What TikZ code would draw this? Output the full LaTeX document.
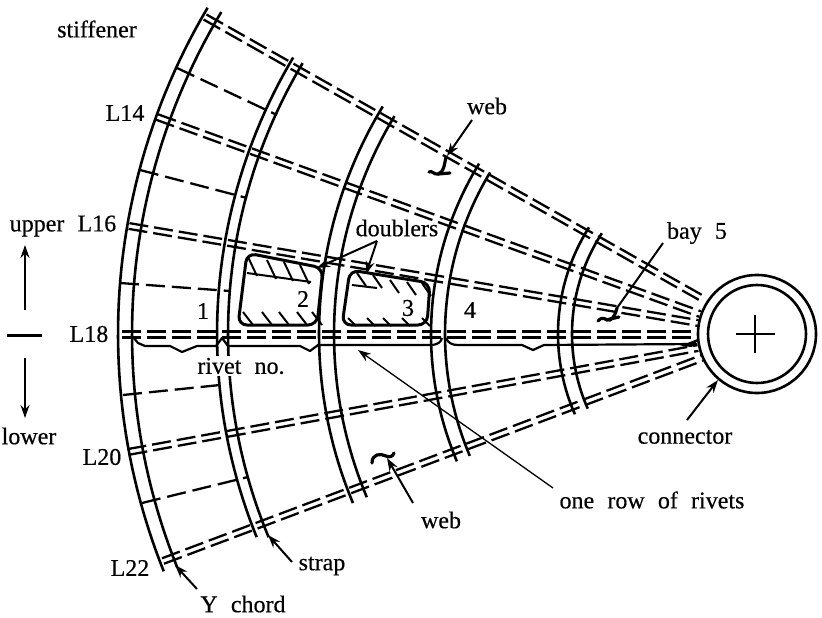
\documentclass[tikz,border=0pt]{standalone}
\usepackage{fontspec}
\setmainfont[WordSpace=2.2,FakeBold=0.4]{Liberation Serif}
\usetikzlibrary{arrows.meta,calc}
\tikzset{
 dbl/.style={line width=2.3pt,dash pattern=on 19pt off 6pt},
 chord/.style={line width=2.6pt,line join=round},
 stiff/.style={line width=2.3pt,dash pattern=on 19pt off 7pt},
 hatch/.style={line width=2pt},
 lead/.style={line width=2pt,-{Stealth[length=13pt,width=9pt]}},
 thinlead/.style={line width=1.3pt,-{Stealth[length=13pt,width=9pt]}},
 lab/.style={font=\fontsize{24}{26}\selectfont,inner sep=0pt},
 dbox/.style={line width=3pt,rounded corners=9pt},
 squig/.style={line width=3.2pt,line cap=round}
}
\begin{document}
\begin{tikzpicture}[x=1pt,y=-1pt]
\useasboundingbox (0,0) rectangle (822,618);
\coordinate (hub) at (757,334);
\coordinate (hA) at (705,300);
\coordinate (hB) at (700,314);
\coordinate (hC) at (698,323);
\coordinate (hD) at (697,334.5);
\coordinate (hE) at (698,348);
\coordinate (hF) at (702,358);
\coordinate (tA) at (205,17);
\coordinate (tB) at (157,117);
\coordinate (tC) at (129,226);
\coordinate (tD) at (122,334.5);
\coordinate (tE) at (128,452);
\coordinate (tF) at (163,561);
\foreach \a/\b in {tA/hA,tB/hB,tC/hC,tD/hD,tE/hE,tF/hF}{
  \draw[dbl] ($(\a)!2.9pt!90:(\b)$) -- ($(\b)!2.9pt!-90:(\a)$);
  \draw[dbl] ($(\a)!2.9pt!-90:(\b)$) -- ($(\b)!2.9pt!90:(\a)$);
}
% short stiffeners
\draw[stiff] (177,68) -- (277,115);
\draw[stiff] (140,170) -- (247,198);
\draw[stiff] (120,283) -- (230,291);
\draw[stiff] (123,395) -- (220,385);
\draw[stiff] (142,503) -- (248,477);
% chords: arcs about the hub
\foreach \r/\s/\e in {639/210.7/158.2,625/211/158.1,540/210.8/157.9,529/210.8/157.4,438/211.3/157.3,423/211/157.3,326/211.5/157,312/211.2/157,199/212.4/156.2,185/213/156.2}{
  \draw[chord] plot[domain=\s:\e,samples=50] ({757+\r*cos(\x)},{334+\r*sin(\x)});
}
% rivet row
\draw[line width=2.2pt,line join=round] (133,337) -- (138,343) -- (145,346) -- (170,346) -- (182,352) -- (197,346) -- (216,346) -- (222,338) -- (228,346) -- (300,346) -- (310,351) -- (318,345) -- (430,345) .. controls (438,345) and (441,342) .. (442,338);
\draw[line width=2.2pt,line join=round] (446,338) .. controls (448,343) and (452,345) .. (458,345) -- (522,345) -- (533,350) -- (544,345) -- (697,344);
\fill (700,338) -- (680,346) -- (692,347) -- cycle;
% doublers
\draw[dbox] (247,253) -- (323,268) -- (317,325) -- (238,325) -- cycle;
\draw[dbox] (350,270) -- (430,283) -- (427,325) -- (342,325) -- cycle;
\foreach \p/\q in {248/257,267/260,284/262,300/265}{\draw[hatch] (\p,\q) -- ++(9,19);}
\foreach \p in {243,262,279,297,312}{\draw[hatch] (\p,312) -- ++(10,13);}
\draw[hatch] (247,273) -- (311,282);
\foreach \p/\q in {357/273,373/275,390/280,407/282,422/283}{\draw[hatch] (\p,\q) -- ++(9,13);}
\foreach \p in {348,367,383,402,422}{\draw[hatch] (\p,318) -- ++(8,8);}
\draw[hatch] (352,285) -- (377,288);
% hub
\node[circle,draw,line width=2.6pt,minimum size=118pt,inner sep=0pt,fill=white] (hubo) at (hub) {};
\node[circle,draw,line width=2.6pt,minimum size=98pt,inner sep=0pt] (hubi) at (hub) {};
\draw[line width=2.6pt] (736,334) -- (775,334) (755,315) -- (755,353);
% leaders
\coordinate (lw1) at (472,120);
\draw[lead] (lw1) -- (447,156);
\draw[squig] (446,157) .. controls (444,166) and (444,172) .. (438,174) .. controls (434,175) and (432,170) .. (429,172);
\draw[squig] (438,174) -- (450,173);
\coordinate (lw2) at (413,503);
\draw[lead] (lw2) -- (387,458);
\draw[squig] (372,463) .. controls (372,454) and (380,453) .. (386,456) .. controls (390,458) and (393,456) .. (394,453);
\coordinate (lb) at (663,243);
\draw[line width=2pt] (lb) -- (617,308);
\draw[squig] (598,321) .. controls (603,315) and (606,321) .. (610,320) .. controls (614,318) and (616,312) .. (617,308);
\draw[squig] (606,320) -- (619,317);
\coordinate (lc) at (687,420);
\draw[lead] (lc) -- (718,380);
\coordinate (ly) at (197,589);
\draw[lead] (ly) -- (175,565);
\coordinate (ls) at (292,562);
\draw[lead] (ls) -- (268,535);
\coordinate (lr) at (553,488);
\draw[thinlead] (lr) -- (358,350);
\coordinate (ld) at (377,241);
\draw[lead] (ld) -- (317,268);
\draw[lead] (ld) -- (366,274);
% up / down
\draw[line width=3pt] (7,335) -- (42,335);
\draw[lead] (25,310) -- (25,245);
\draw[lead] (25,358) -- (25,418);
% text
\node[lab] (t1) at (97,29) {stiffener};
\node[lab] (t2) at (125,113) {L14};
\node[lab] (t3) at (63,226) {upper L16};
\node[lab] (t4) at (89,334) {L18};
\node[lab] (t5) at (29,436) {lower};
\node[lab] (t6) at (102,457) {L20};
\node[lab] (t7) at (130,568) {L22};
\node[lab] (t8) at (243,604) {Y chord};
\node[lab] (t9) at (322,566) {strap};
\node[lab] (t10) at (441,520) {web};
\node[lab] (t11) at (487,106) {web};
\node[lab] (t12) at (397,228) {doublers};
\node[lab] (t13) at (697,233) {bay 5};
\node[lab] (t14) at (685,437) {connector};
\node[lab] (t15) at (652,500) {one row of rivets};
\node[lab,fill=white,inner xsep=1pt,inner ysep=2pt] (t16) at (241,366) {rivet no.};
\node[lab] (t17) at (203,311) {1};
\node[lab] (t18) at (303,299) {2};
\node[lab] (t19) at (408,308) {3};
\node[lab] (t20) at (470,310) {4};
\end{tikzpicture}
\end{document}
